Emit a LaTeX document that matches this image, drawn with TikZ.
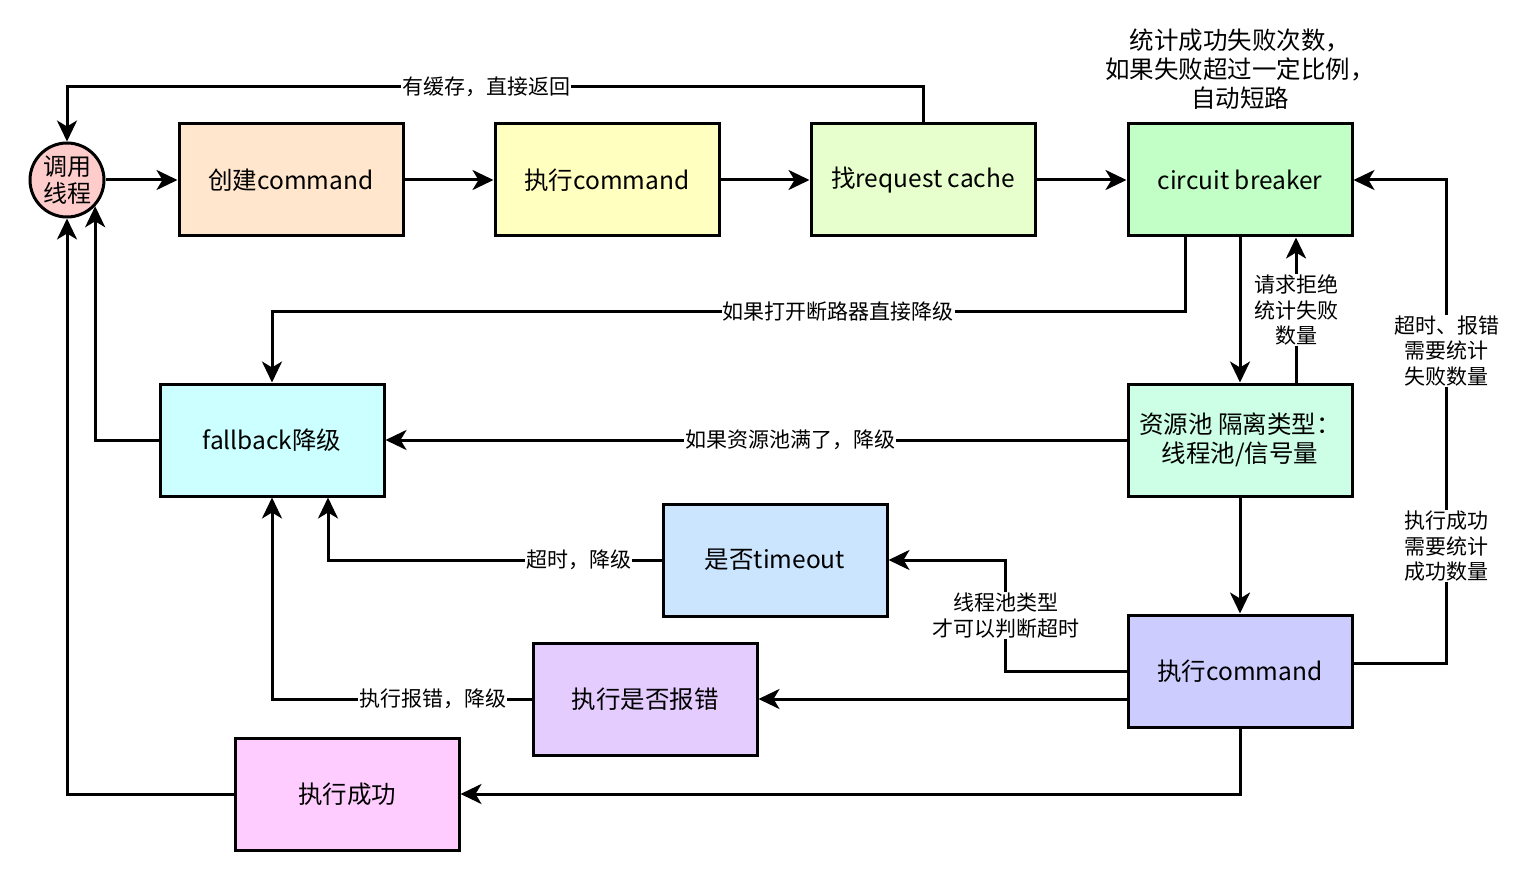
\documentclass[tikz,border=0pt]{standalone}
\usepackage{fontspec}
\setmainfont{Noto Sans CJK SC}
\usetikzlibrary{arrows.meta}
\definecolor{callerred}{HTML}{FFCCCC}
\definecolor{createorange}{HTML}{FFE6CC}
\definecolor{execyellow}{HTML}{FFFFC0}
\definecolor{cachelime}{HTML}{E6FFCC}
\definecolor{breakergreen}{HTML}{C2FFC6}
\definecolor{fallbackcyan}{HTML}{CCFFFF}
\definecolor{poolmint}{HTML}{CCFFE6}
\definecolor{timeoutblue}{HTML}{CCE5FF}
\definecolor{runviolet}{HTML}{CCCCFF}
\definecolor{errpurple}{HTML}{E5CCFF}
\definecolor{okpink}{HTML}{FFCCFF}
\begin{document}
\begin{tikzpicture}[x=1pt, y=-1pt,
  box/.style={draw, line width=3pt, minimum width=224pt, minimum height=112pt,
    inner sep=0pt, align=center, font=\fontsize{24.5}{29}\selectfont},
  flow/.style={line width=3pt, -{Stealth[length=21pt, width=20pt, inset=6pt]}},
  lbl/.style={fill=white, inner sep=1pt, align=center, font=\fontsize{21}{25.5}\selectfont}]
\useasboundingbox (0,0) rectangle (1536,890);
% nodes
\node[circle, draw, line width=3pt, fill=callerred, minimum size=74pt, inner sep=0pt, align=center, font=\fontsize{24}{27}\selectfont] (caller) at (67,180) {调用\\线程};
\node[box, fill=createorange] (create) at (291,180) {创建command};
\node[box, fill=execyellow] (exec) at (607,180) {执行command};
\node[box, fill=cachelime] (cache) at (923,180) {找request cache};
\node[box, fill=breakergreen] (breaker) at (1240,180) {circuit breaker};
\node[box, fill=fallbackcyan] (fallback) at (272,440) {fallback降级};
\node[box, fill=poolmint] (pool) at (1240,440) {资源池 隔离类型：\\线程池/信号量};
\node[box, fill=timeoutblue] (timeout) at (775,560) {是否timeout};
\node[box, fill=runviolet] (run) at (1240,671) {执行command};
\node[box, fill=errpurple] (err) at (645,699) {执行是否报错};
\node[box, fill=okpink] (ok) at (347,794) {执行成功};
\node[align=center, font=\fontsize{24.5}{29}\selectfont] (note) at (1240,69) {统计成功失败次数，\\如果失败超过一定比例，\\自动短路};
% main line
\draw[flow](caller) -- (create);
\draw[flow](create) -- (exec);
\draw[flow](exec) -- (cache);
\draw[flow](cache) -- (breaker);
\draw[flow](cache.north) -- ++(0,-36) -| (caller.north) node[lbl, pos=0.255]{有缓存，直接返回};
% breaker and pool
\draw[flow]([xshift=-55pt]breaker.south) -- ++(0,74) -| (fallback.north) node[lbl, pos=0.19]{如果打开断路器直接降级};
\draw[flow](breaker) -- (pool);
\draw[flow]([xshift=56pt]pool.north) -- ([xshift=56pt]breaker.south) node[lbl, midway]{请求拒绝\\统计失败\\数量};
\draw[flow](pool) -- (fallback) node[lbl, pos=0.454]{如果资源池满了，降级};
\draw[flow](pool) -- (run);
% after running
\draw[flow](run.west) -- ++(-121,0) |- (timeout.east) node[lbl, pos=0.25]{线程池类型\\才可以判断超时};
\draw[flow](timeout.west) -| ([xshift=56pt]fallback.south) node[lbl, pos=0.124]{超时，降级};
\draw[flow](run.west |- err.east) -- (err.east);
\draw[flow](err.west) -| (fallback.south) node[lbl, pos=0.19]{执行报错，降级};
\draw[flow](run.south) |- (ok.east);
\draw[flow](ok.west) -| (caller.south);
\draw[flow](fallback.west) -| (caller.-43);
\draw[flow]([yshift=8pt]run.east) -- ++(93,0) |- (breaker.east)
  node[lbl, pos=0.121]{执行成功\\需要统计\\成功数量}
  node[lbl, pos=0.323]{超时、报错\\需要统计\\失败数量};

\end{tikzpicture}
\end{document}
